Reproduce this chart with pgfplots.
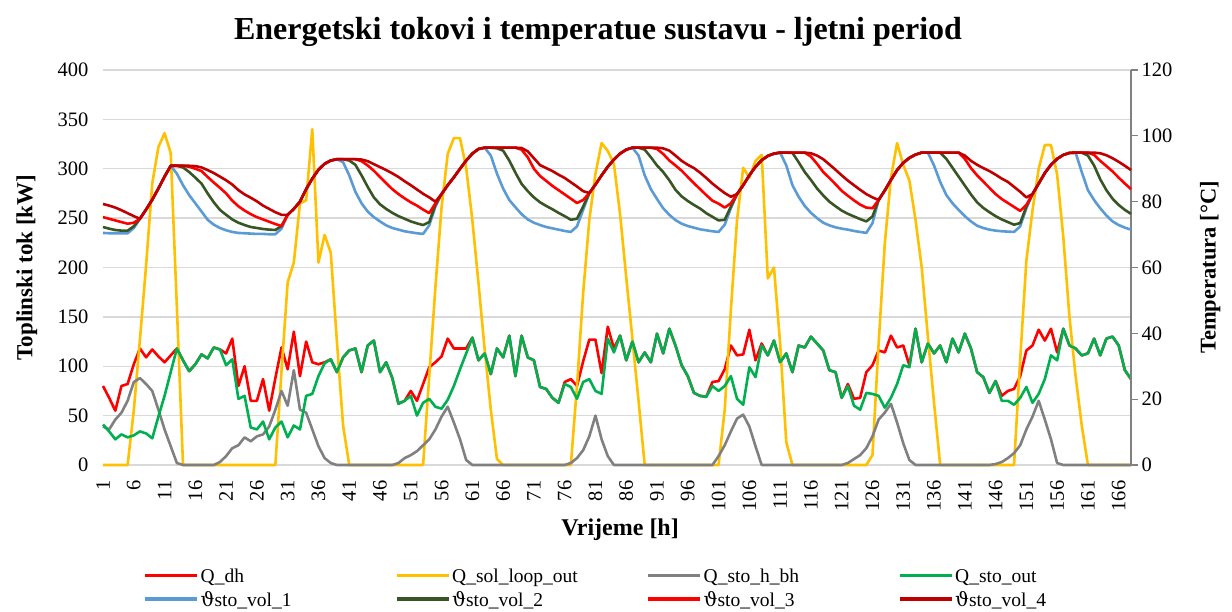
\documentclass[border=0pt]{standalone}
\usepackage{fontspec}
\setmainfont{Liberation Serif}
\newfontfamily\dvs{DejaVu Serif}
\usepackage{pgfplots}
\usepackage{pgfplotstable}
\pgfplotsset{compat=1.18}
\definecolor{cdh}{HTML}{FF0000}
\definecolor{csol}{HTML}{FFC000}
\definecolor{cbh}{HTML}{808080}
\definecolor{cout}{HTML}{00B050}
\definecolor{cvA}{HTML}{5B9BD5}
\definecolor{cvB}{HTML}{375623}
\definecolor{cvC}{HTML}{FF0000}
\definecolor{cvD}{HTML}{C00000}
\definecolor{cgrid}{HTML}{D9D9D9}
\pgfplotstableread{
h dh sol bh out v1 v2 v3 v4
1 80 0 39 41 70.5 72.3 75.3 79.3
2 68 0 36 34 70.4 71.8 74.8 78.8
3 55 0 46 26 70.4 71.4 74.3 78.2
4 80 0 53 31 70.4 71.2 73.8 77.4
5 82 0 65 28 70.4 71.2 73.3 76.5
6 102 55 84 30 72.0 72.5 73.6 75.6
7 118 127 88 34 74.8 74.8 74.8 74.8
8 109 202 82 32 77.6 77.6 77.6 77.6
9 117 285 75 27 80.6 80.6 80.6 80.6
10 110 322 56 49 84.0 84.0 84.0 84.0
11 104 336 36 70 87.6 87.6 87.6 87.6
12 111 316 19 94 90.9 90.9 90.9 90.9
13 118 160 2 118 88.5 90.9 90.9 90.9
14 106 0 0 106 85.0 90.4 90.9 90.9
15 95 0 0 95 82.0 89.0 90.6 90.9
16 102 0 0 102 79.5 87.3 90.0 90.8
17 112 0 0 112 77.0 85.5 89.3 90.4
18 108 0 0 108 74.5 82.5 87.5 89.6
19 119 0 0 119 73.0 79.8 85.8 88.7
20 117 0 3 117 72.0 77.5 84.2 87.6
21 113 0 9 101 71.3 76.0 82.5 86.5
22 128 0 17 107 70.8 74.6 80.3 85.2
23 80 0 20 67 70.5 73.6 78.6 83.5
24 100 0 28 70 70.4 72.9 77.3 82.2
25 65 0 24 38 70.3 72.3 76.2 81.2
26 65 0 29 36 70.2 72.0 75.3 80.1
27 87 0 31 44 70.2 71.7 74.6 78.8
28 55 0 39 26 70.1 71.5 73.9 77.8
29 88 0 56 38 70.1 71.4 73.2 76.8
30 119 95 75 44 71.8 72.6 72.6 76.0
31 97 185 60 28 76.0 76.0 76.0 76.0
32 135 205 96 40 77.8 77.8 77.8 77.8
33 90 265 56 36 80.0 80.0 80.0 80.0
34 125 268 53 70 83.8 83.8 83.8 83.8
35 104 340 36 72 87.0 87.0 87.0 87.0
36 102 205 19 90 89.7 89.7 89.7 89.7
37 104 233 7 103 91.5 91.5 91.5 91.5
38 107 215 2 107 92.5 92.5 92.5 92.5
39 94 125 0 94 92.9 92.9 92.9 92.9
40 109 40 0 109 92.0 92.9 92.9 92.9
41 116 0 0 116 88.0 92.5 92.9 92.9
42 118 0 0 118 83.0 91.2 92.9 92.9
43 94 0 0 94 79.5 88.0 92.3 92.8
44 121 0 0 121 77.0 84.5 91.0 92.3
45 126 0 0 126 75.3 81.3 89.4 91.4
46 94 0 0 94 74.0 79.2 87.5 90.5
47 104 0 0 104 72.8 77.8 85.6 89.6
48 88 0 0 88 72.0 76.6 83.8 88.6
49 62 0 2 62 71.5 75.6 82.3 87.5
50 65 0 7 65 71.0 74.8 81.0 86.2
51 75 0 10 70 70.7 74.0 79.8 85.0
52 65 0 14 50 70.4 73.4 78.8 83.7
53 82 0 20 63 70.2 72.9 77.6 82.4
54 99 90 26 67 72.8 73.8 76.5 81.3
55 104 180 36 59 78.5 79.0 79.5 80.0
56 110 261 49 57 82.3 82.3 82.3 82.3
57 128 315 59 66 85.0 85.0 85.0 85.0
58 118 331 43 80 87.4 87.4 87.4 87.4
59 118 331 26 97 90.0 90.0 90.0 90.0
60 118 301 5 113 92.5 92.5 92.5 92.5
61 129 248 0 129 94.6 94.6 94.6 94.6
62 106 184 0 106 96.0 96.0 96.0 96.0
63 113 117 0 113 96.4 96.4 96.4 96.4
64 92 56 0 92 94.0 96.4 96.4 96.4
65 118 6 0 118 88.5 96.2 96.4 96.4
66 109 0 0 109 84.0 95.5 96.4 96.4
67 131 0 0 131 80.5 92.5 96.4 96.4
68 90 0 0 90 78.3 88.8 96.4 96.4
69 131 0 0 131 76.2 85.4 95.8 96.3
70 109 0 0 109 74.6 83.2 93.5 95.3
71 106 0 0 106 73.6 81.3 90.0 93.2
72 79 0 0 79 72.9 79.8 87.8 91.1
73 77 0 0 77 72.3 78.7 86.3 90.2
74 68 0 0 68 71.9 77.7 84.8 89.3
75 63 0 0 63 71.5 76.6 83.5 88.2
76 84 0 0 82 71.1 75.6 82.2 87.2
77 87 0 2 79 70.8 74.5 80.9 85.9
78 80 80 7 67 72.5 74.8 79.6 84.6
79 105 174 15 84 77.5 78.5 80.5 83.2
80 127 248 29 87 82.6 82.6 82.6 82.6
81 127 295 50 75 85.2 85.2 85.2 85.2
82 93 326 26 72 88.0 88.0 88.0 88.0
83 140 318 9 128 90.6 90.6 90.6 90.6
84 118 305 0 114 92.8 92.8 92.8 92.8
85 131 254 0 131 94.6 94.6 94.6 94.6
86 106 190 0 106 95.8 95.8 95.8 95.8
87 125 128 0 125 96.4 96.4 96.4 96.4
88 104 65 0 104 94.0 96.4 96.4 96.4
89 114 0 0 114 88.0 95.8 96.4 96.4
90 104 0 0 104 83.8 93.5 96.4 96.4
91 133 0 0 133 80.8 91.0 96.0 96.4
92 113 0 0 113 78.0 89.0 94.5 96.2
93 138 0 0 138 76.0 86.5 92.5 95.5
94 121 0 0 121 74.4 83.6 91.0 94.0
95 101 0 0 101 73.3 81.6 89.4 92.4
96 90 0 0 90 72.6 80.2 87.5 91.2
97 73 0 0 73 72.1 79.0 85.6 90.2
98 70 0 0 70 71.6 77.9 83.8 88.8
99 69 0 0 69 71.3 76.5 82.0 87.2
100 84 0 0 80 71.0 75.4 80.3 85.5
101 85 0 9 75 70.8 74.3 79.4 84.0
102 97 56 20 80 73.0 74.5 78.2 82.6
103 121 157 34 90 78.0 78.5 79.5 81.5
104 111 248 47 67 82.3 82.3 82.3 82.3
105 112 301 51 61 85.0 85.0 85.0 85.0
106 137 291 39 99 88.0 88.0 88.0 88.0
107 106 308 19 89 90.6 90.6 90.6 90.6
108 123 314 0 121 92.6 92.6 92.6 92.6
109 111 189 0 111 93.9 93.9 93.9 93.9
110 126 200 0 126 94.6 94.6 94.6 94.6
111 104 123 0 104 94.9 94.9 94.9 94.9
112 113 23 0 113 91.0 94.9 94.9 94.9
113 94 0 0 94 85.0 94.8 94.9 94.9
114 121 0 0 121 81.5 92.0 94.9 94.9
115 119 0 0 119 78.7 89.0 94.9 94.9
116 130 0 0 130 76.6 86.6 93.7 94.7
117 123 0 0 123 75.0 84.0 91.5 94.0
118 116 0 0 116 73.6 81.9 89.0 92.9
119 96 0 0 96 72.8 80.0 87.2 91.3
120 94 0 0 94 72.2 78.6 85.3 89.7
121 68 0 0 68 71.8 77.3 83.3 88.0
122 82 0 2 80 71.5 76.3 81.8 86.4
123 67 0 6 60 71.1 75.5 80.4 85.0
124 68 0 10 56 70.8 74.7 79.1 83.6
125 94 0 17 73 70.5 74.0 78.2 82.3
126 101 10 29 72 73.5 75.5 78.0 81.3
127 116 123 46 70 80.5 80.5 80.5 80.5
128 114 224 53 58 83.4 83.4 83.4 83.4
129 131 291 62 68 86.6 86.6 86.6 86.6
130 119 326 43 82 89.6 89.6 89.6 89.6
131 121 304 22 101 91.8 91.8 91.8 91.8
132 101 288 5 99 93.3 93.3 93.3 93.3
133 138 248 0 138 94.3 94.3 94.3 94.3
134 104 200 0 104 94.9 94.9 94.9 94.9
135 123 130 0 123 94.9 94.9 94.9 94.9
136 113 63 0 113 91.0 94.9 94.9 94.9
137 121 0 0 121 86.0 94.9 94.9 94.9
138 104 0 0 104 82.0 93.0 94.9 94.9
139 128 0 0 128 79.5 90.3 94.9 94.9
140 114 0 0 114 77.5 87.6 94.9 94.9
141 133 0 0 133 75.6 84.9 93.0 94.0
142 118 0 0 118 74.0 82.2 90.2 92.4
143 94 0 0 94 72.7 79.8 88.0 91.2
144 89 0 0 89 72.0 78.1 86.1 90.2
145 73 0 0 73 71.5 76.8 84.2 89.3
146 85 0 1 85 71.2 75.6 82.3 88.2
147 70 0 3 65 71.0 74.6 80.8 87.0
148 75 0 7 65 70.9 73.8 79.6 86.0
149 77 0 12 61 70.8 73.0 78.4 84.5
150 90 107 20 68 72.5 73.5 77.2 83.0
151 116 207 36 79 78.0 78.5 79.0 81.3
152 121 258 49 63 82.3 82.3 82.3 82.3
153 137 300 65 72 85.5 85.5 85.5 85.5
154 126 324 46 87 88.7 88.7 88.7 88.7
155 138 324 26 111 91.2 91.2 91.2 91.2
156 114 294 2 106 93.0 93.0 93.0 93.0
157 138 231 0 138 94.2 94.2 94.2 94.2
158 121 150 0 121 94.8 94.8 94.8 94.8
159 118 90 0 118 94.9 94.9 94.9 94.9
160 111 40 0 111 89.0 94.9 94.9 94.9
161 113 0 0 113 83.5 94.0 94.9 94.9
162 128 0 0 128 80.5 91.0 94.2 94.9
163 111 0 0 111 78.0 86.8 92.4 94.7
164 128 0 0 128 75.8 83.5 90.8 94.1
165 130 0 0 130 74.0 80.9 89.2 93.2
166 121 0 0 121 72.9 79.0 87.3 92.1
167 96 0 0 96 72.1 77.5 85.5 90.9
168 87 0 0 87 71.5 76.3 83.8 89.6
}\data
\pgfplotsset{
  common/.style={
    at={(0pt,0pt)}, anchor=south west,
    scale only axis, width=1028pt, height=395pt,
    xmin=1, xmax=168, clip=false,
    /pgf/number format/assume math mode=true,
    tick label style={font=\fontsize{20.5}{24}\selectfont},
    every axis plot/.append style={line width=2.6pt, line join=round, mark=none},
  }
}
\begin{document}
\begin{tikzpicture}[x=1pt,y=1pt]
\path[use as bounding box] (-103,-147) rectangle (1129,465);
\begin{axis}[common,
  ymin=0, ymax=400, ytick={0,50,...,400},
  xtick={1,6,...,166},
  axis x line*=bottom, axis y line*=left,
  x axis line style={-, draw=cgrid, line width=1.3pt},
  y axis line style={draw=none},
  xtick style={draw=none}, ytick style={draw=none},
  ymajorgrids, grid style={cgrid, line width=1.3pt},
  xticklabel style={rotate=90, anchor=east},
  xticklabel shift=12pt,
  yticklabel shift=11pt,
  title={\fontsize{32}{37}\selectfont\bfseries Energetski tokovi i temperatue sustavu - ljetni period},
  title style={at={(axis description cs:0.4815,1.08)}, anchor=center},
  xlabel={\fontsize{24}{28}\selectfont\bfseries Vrijeme [h]},
  xlabel style={at={(axis description cs:0.503,-0.163)}, anchor=center},
  ylabel={\fontsize{23}{27}\selectfont\bfseries Toplinski tok [kW]},
  ylabel style={at={(axis description cs:-0.074,0.5)}, anchor=center},
]
\addplot[cdh] table[x=h, y=dh] {\data};
\addplot[csol] table[x=h, y=sol] {\data};
\addplot[cbh] table[x=h, y=bh] {\data};
\addplot[cout] table[x=h, y=out] {\data};
\end{axis}
\begin{axis}[common,
  ymin=0, ymax=120, ytick={0,20,...,120},
  axis x line=none, axis y line*=right,
  y axis line style={-, draw=gray, line width=1.3pt},
  ytick style={draw=gray, line width=1.3pt},
  tick align=outside, major tick length=7pt,
  ylabel={\fontsize{22.5}{27}\selectfont\bfseries Temperatura [°C]},
  ylabel style={at={(axis description cs:1.077,0.5)}, anchor=center, rotate=0},
  legend columns=4,
  legend cell align=left,
  legend style={at={(axis description cs:0.0365,-0.31)}, anchor=west, draw=none, fill=none,
    font=\fontsize{19.5}{22}\selectfont, nodes={inner sep=1.5pt}, row sep=3.5pt,
    /tikz/every even column/.style={column sep=0pt}},
  legend image code/.code={\draw[#1, line width=3.5pt] (0pt,0pt) -- (52pt,0pt);},
]
\addlegendimage{cdh}
\addlegendentry{\makebox[193pt][l]{\strut Q\_dh}}
\addlegendimage{csol}
\addlegendentry{\makebox[193pt][l]{\strut Q\_sol\_loop\_out}}
\addlegendimage{cbh}
\addlegendentry{\makebox[193pt][l]{\strut Q\_sto\_h\_bh}}
\addlegendimage{cout}
\addlegendentry{\makebox[193pt][l]{\strut Q\_sto\_out}}
\addplot[cvA] table[x=h, y=v1] {\data};
\addlegendentry{\makebox[193pt][l]{\strut{\dvs ϑ}sto\_vol\_1}}
\addplot[cvB] table[x=h, y=v2] {\data};
\addlegendentry{\makebox[193pt][l]{\strut{\dvs ϑ}sto\_vol\_2}}
\addplot[cvC] table[x=h, y=v3] {\data};
\addlegendentry{\makebox[193pt][l]{\strut{\dvs ϑ}sto\_vol\_3}}
\addplot[cvD] table[x=h, y=v4] {\data};
\addlegendentry{\makebox[193pt][l]{\strut{\dvs ϑ}sto\_vol\_4}}
\end{axis}
\end{tikzpicture}
\end{document}
